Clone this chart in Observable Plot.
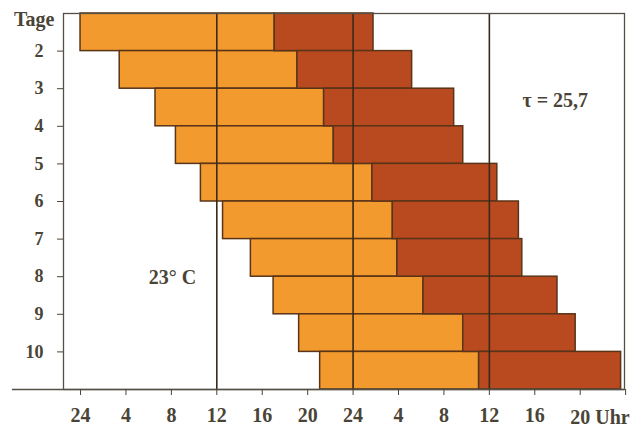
<!DOCTYPE html>
<html><head><meta charset="utf-8">
<script src="https://cdn.jsdelivr.net/npm/d3@7"></script>
<script src="https://cdn.jsdelivr.net/npm/@observablehq/plot@0.6"></script>
<style>
body{margin:0;background:#fff}
#chart svg{font-family:"Liberation Serif","DejaVu Serif",serif;font-weight:bold}
</style>
</head><body><div id="chart"></div>
<script>
// Rows (Tage) and hours since first midnight
const days = [1, 2, 3, 4, 5, 6, 7, 8, 9, 10];
const lightStart = [0, 3.45, 6.6, 8.4, 10.6, 12.55, 15.0, 17.0, 19.25, 21.1];
const darkStart = [17.1, 19.1, 21.45, 22.3, 25.7, 27.5, 27.9, 30.2, 33.7, 35.1];
const endHour = [25.8, 29.2, 32.9, 33.7, 36.7, 38.6, 38.9, 42.0, 43.6, 47.6];

const xTickHours = [0, 4, 8, 12, 16, 20, 24, 28, 32, 36, 40, 44, 48];
const xTickLabels = ["24", "4", "8", "12", "16", "20", "24", "4", "8", "12", "16"];
const xLastLabel = ["20 Uhr"];
const yTicks = [2, 3, 4, 5, 6, 7, 8, 9, 10];
const yTitle = ["Tage"];
const gridHours = [12, 24, 36];
const tempLabel = ["23° C"];
const tauLabel = ["τ = 25,7"];

const rows = days.map((d, i) => ({day: d, a: lightStart[i], b: darkStart[i], c: endHour[i]}));
const ink = "#4a4436";
const edge = "#5a3418";

const chart = Plot.plot({
  width: 639,
  height: 429,
  marginLeft: 63,
  marginRight: 15,
  marginTop: 13,
  marginBottom: 40,
  style: {background: "#fff", color: ink, fontSize: "18px"},
  x: {domain: [-1.5, 47.9], axis: null, label: null},
  y: {domain: [1, 11], reverse: true, axis: null, label: null},
  marks: [
    Plot.rect(rows, {x1: "a", x2: "b", y1: "day", y2: d => d.day + 1, fill: "#f39a2e", stroke: edge, strokeWidth: 1.5}),
    Plot.rect(rows, {x1: "b", x2: "c", y1: "day", y2: d => d.day + 1, fill: "#b94a20", stroke: edge, strokeWidth: 1.5}),
    Plot.ruleX(gridHours, {stroke: "#3a2a1a", strokeWidth: 1.6}),
    Plot.frame({stroke: "#555046", strokeWidth: 1.3}),
    Plot.ruleY([11], {x1: -6, x2: 47.9, stroke: "#555046", strokeWidth: 1.3}),
    Plot.axisX({ticks: xTickHours, label: null, tickSize: 6, tickPadding: 12, tickFormat: (d, i) => xTickLabels[i] ?? "", stroke: ink, fill: ink, fontSize: 20, fontWeight: "bold"}),
    Plot.text(xLastLabel, {x: 44, y: 11, dy: 28, dx: -10, textAnchor: "start", fill: ink, fontSize: 20, fontWeight: "bold"}),
    Plot.axisY({ticks: yTicks, label: null, tickSize: 6, tickPadding: 14, tickFormat: d => String(d), stroke: ink, fill: ink, fontSize: 18, fontWeight: "bold"}),
    Plot.text(yTitle, {x: -1.5, y: 1, dx: -9, dy: 6, textAnchor: "end", fill: ink, fontSize: 20, fontWeight: "bold"}),
    Plot.text(tempLabel, {x: 8.1, y: 8.02, fill: ink, fontSize: 20, fontWeight: "bold"}),
    Plot.text(tauLabel, {x: 41.8, y: 3.31, fill: ink, fontSize: 20, fontWeight: "bold"})
  ]
});
document.getElementById("chart").append(chart);
</script>
</body></html>
